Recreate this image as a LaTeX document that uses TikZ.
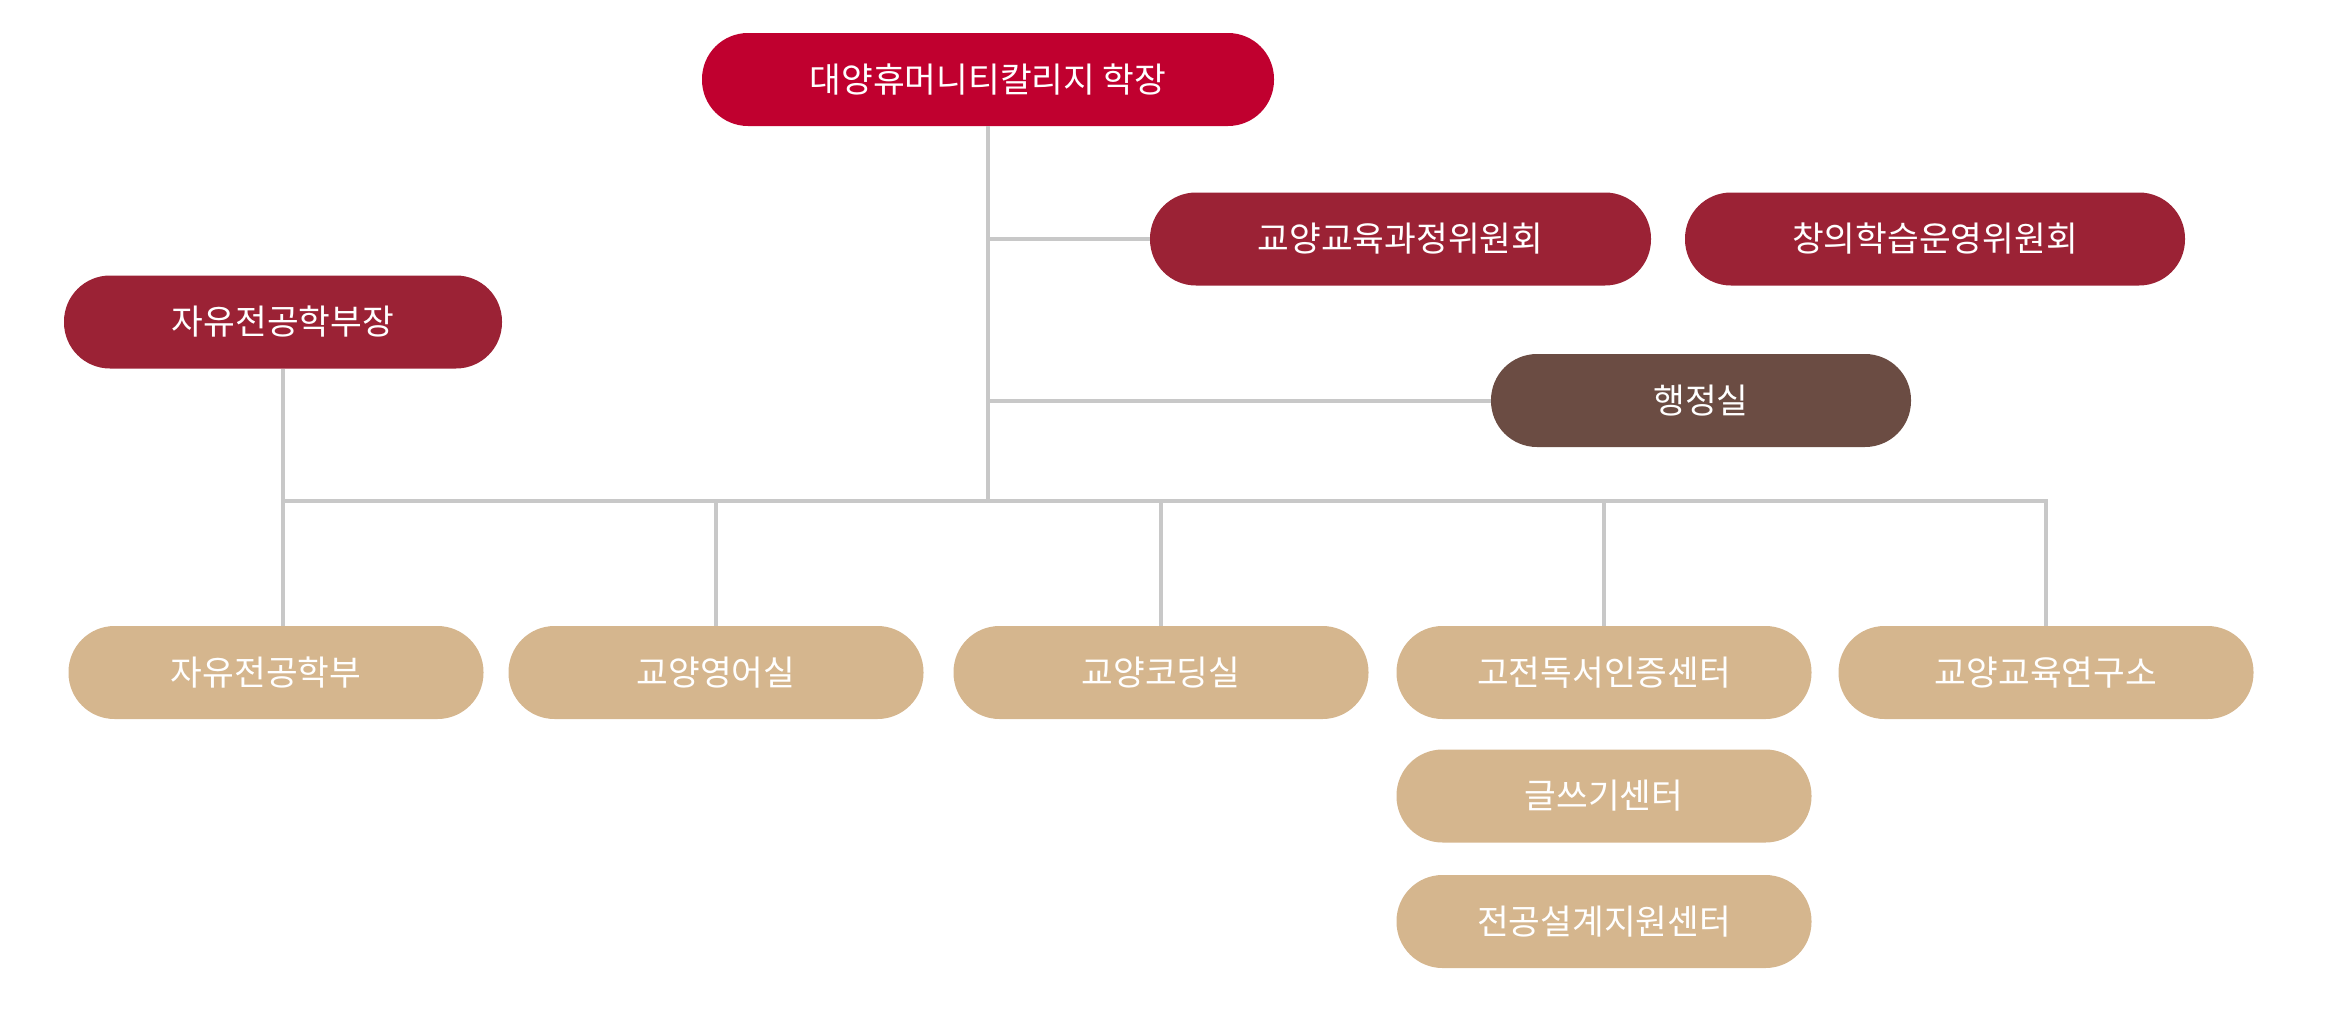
\documentclass[tikz,border=0pt]{standalone}
\usepackage{fontspec}
\setmainfont{Noto Sans CJK KR}
\definecolor{deanred}{HTML}{C0002F}
\definecolor{cmtred}{HTML}{9B2235}
\definecolor{admbrown}{HTML}{6B4C43}
\definecolor{tan}{HTML}{D5B68E}
\definecolor{linegray}{HTML}{C8C8C8}
\begin{document}
\begin{tikzpicture}[x=1pt,y=1pt,
  pill/.style={rounded corners=46pt, inner sep=0pt, minimum height=93pt,
    text=white, font=\fontsize{34.5}{40}\selectfont},
  deanbox/.style={pill, fill=deanred, minimum width=572pt},
  cmtbox/.style={pill, fill=cmtred, minimum width=#1},
  admbox/.style={pill, fill=admbrown, minimum width=420pt},
  unitbox/.style={pill, fill=tan, minimum width=415pt},
  conn/.style={draw=linegray, line width=4pt}]
\useasboundingbox (0,0) rectangle (2347,-1023);
% nodes
\node[deanbox] (dean) at (988,-79.5) {대양휴머니티칼리지 학장};
\node[cmtbox=438pt] (libhead) at (283,-322) {자유전공학부장};
\node[cmtbox=501pt] (cmt1) at (1400.5,-239) {교양교육과정위원회};
\node[cmtbox=500pt] (cmt2) at (1935,-239) {창의학습운영위원회};
\node[admbox] (admin) at (1701,-400.5) {행정실};
\node[unitbox] (d1) at (276,-672.5) {\hspace*{-20pt}자유전공학부};
\node[unitbox] (d2) at (716,-672.5) {교양영어실};
\node[unitbox] (d3) at (1161,-672.5) {교양코딩실};
\node[unitbox] (d4) at (1604,-672.5) {고전독서인증센터};
\node[unitbox] (d5) at (2046,-672.5) {교양교육연구소};
\node[unitbox] (d6) at (1604,-796) {글쓰기센터};
\node[unitbox] (d7) at (1604,-921.5) {전공설계지원센터};
% coordinates
\coordinate (hub) at (988,-501);
\coordinate (br1) at (988,-239);
\coordinate (br2) at (988,-400.5);
\coordinate (busL) at (283,-501);
\coordinate (busR) at (2046,-501);
% connectors
\draw[conn] (dean.south) -- (hub);
\draw[conn] (br1) -- (cmt1.west);
\draw[conn] (br2) -- (admin.west);
\draw[conn] (libhead.south) -- (busL);
\draw[conn, line cap=rect] (busL) -- (busR);
\draw[conn] (busL) -- (busL |- d1.north);
\draw[conn] (d2.north |- busL) -- (d2.north);
\draw[conn] (d3.north |- busL) -- (d3.north);
\draw[conn] (d4.north |- busL) -- (d4.north);
\draw[conn] (busR) -- (d5.north);
\end{tikzpicture}
\end{document}
